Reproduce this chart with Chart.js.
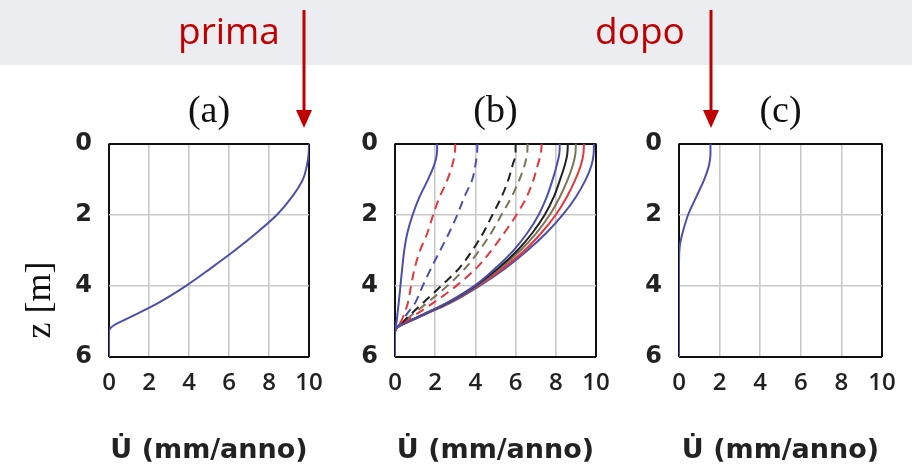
<!DOCTYPE html>
<html>
<head>
<meta charset="utf-8">
<script src="https://cdn.jsdelivr.net/npm/chart.js@4.4.0/dist/chart.umd.min.js"></script>
<style>
html, body { margin: 0; padding: 0; background: #fff; }
body { width: 912px; height: 466px; position: relative; overflow: hidden; }
#band { position: absolute; left: 0; top: 0; width: 912px; height: 65px; background: #ecedf1; }
.panel { position: absolute; top: 0; height: 466px; }
#over { position: absolute; left: 0; top: 0; pointer-events: none; }
</style>
</head>
<body>
<div id="band"></div>
<div class="panel" style="left:0px;width:418px"><canvas id="ca"></canvas></div>
<div class="panel" style="left:286px;width:419px"><canvas id="cb"></canvas></div>
<div class="panel" style="left:570px;width:421px"><canvas id="cc"></canvas></div>
<svg id="over" width="912" height="466">
  <text x="178" y="44" font-family="Open Sans" font-size="37" fill="#c00000">prima</text>
  <line x1="304" y1="10" x2="304" y2="112" stroke="#c00000" stroke-width="3"/>
  <polygon points="296,110 312,110 304,128" fill="#c00000"/>
  <text x="595" y="44" font-family="Open Sans" font-size="37" fill="#c00000">dopo</text>
  <line x1="711" y1="10" x2="711" y2="112" stroke="#c00000" stroke-width="3"/>
  <polygon points="703,110 719,110 711,128" fill="#c00000"/>
  <text transform="translate(38,300) rotate(-90)" text-anchor="middle" dominant-baseline="central"
        font-family="Liberation Serif" font-size="36" fill="#111">z [m]</text>
</svg>
<script>
// depth z [m] (shared by every curve) and velocity U [mm/anno]
const zA = [0, 0.3, 0.6, 1.0, 1.5, 2.0, 2.5, 3.0, 3.5, 4.0, 4.5, 4.8, 5.0, 5.1, 5.2, 5.3, 6.0];
const uA = [10, 9.98, 9.9, 9.7, 9.15, 8.4, 7.4, 6.3, 5.1, 3.85, 2.4, 1.35, 0.62, 0.27, 0.05, 0, 0];

const zB = [0, 0.3, 0.6, 1.0, 1.5, 2.0, 2.5, 3.0, 3.5, 4.0, 4.5, 4.8, 5.0, 5.1, 5.2, 5.3, 6.0];
const bBlue1  = [2.1, 2.08, 1.95, 1.65, 1.22, 0.88, 0.62, 0.46, 0.36, 0.27, 0.18, 0.12, 0.08, 0.05, 0.02, 0, 0];
const bRedD1  = [3.0, 2.97, 2.85, 2.62, 2.22, 1.9, 1.62, 1.25, 0.98, 0.8, 0.63, 0.45, 0.3, 0.18, 0.05, 0, 0];
const bBlueD  = [4.1, 4.08, 4.0, 3.85, 3.45, 3.1, 2.7, 2.25, 1.8, 1.38, 0.98, 0.58, 0.35, 0.2, 0.05, 0, 0];
const bBlackD = [6.0, 6.0, 5.85, 5.65, 5.3, 4.85, 4.4, 3.85, 3.2, 2.3, 1.35, 0.78, 0.42, 0.2, 0.05, 0, 0];
const bOliveD = [6.6, 6.57, 6.45, 6.2, 5.8, 5.3, 4.8, 4.2, 3.5, 2.6, 1.55, 0.88, 0.46, 0.22, 0.05, 0, 0];
const bRedD2  = [7.3, 7.25, 7.1, 6.9, 6.55, 6.05, 5.45, 4.8, 4.05, 3.05, 1.85, 1.05, 0.52, 0.25, 0.05, 0, 0];
const bBlue2  = [8.2, 8.17, 8.05, 7.85, 7.55, 7.15, 6.6, 5.9, 5.0, 3.95, 2.5, 1.4, 0.66, 0.3, 0.05, 0, 0];
const bBlack  = [8.6, 8.57, 8.45, 8.22, 7.9, 7.45, 6.85, 6.1, 5.15, 4.0, 2.55, 1.42, 0.67, 0.3, 0.05, 0, 0];
const bOlive  = [9.0, 8.97, 8.85, 8.6, 8.2, 7.7, 7.05, 6.25, 5.25, 4.05, 2.6, 1.45, 0.69, 0.31, 0.05, 0, 0];
const bRed    = [9.4, 9.37, 9.25, 8.98, 8.55, 8.0, 7.3, 6.45, 5.38, 4.12, 2.63, 1.47, 0.7, 0.32, 0.05, 0, 0];
const bBlue3  = [9.9, 9.88, 9.78, 9.5, 9.0, 8.35, 7.55, 6.6, 5.5, 4.2, 2.68, 1.5, 0.72, 0.33, 0.05, 0, 0];

const zC = [0, 0.3, 0.6, 1.0, 1.5, 2.0, 2.5, 2.8, 3.0, 3.5, 6.0];
const uC = [1.55, 1.55, 1.48, 1.25, 0.85, 0.45, 0.18, 0.06, 0.02, 0, 0];

const xTicks = [0, 2, 4, 6, 8, 10];
const yTicks = [0, 2, 4, 6];

const BLUE = '#4b4fae', RED = '#e5353d', BLACK = '#222222', OLIVE = '#7d7357';

function pts(z, u) {
  return z.map((v, i) => ({ x: u[i], y: v }));
}
function ds(z, u, color, dashed) {
  return {
    data: pts(z, u),
    borderColor: color,
    borderWidth: 2,
    borderDash: dashed ? [9, 6] : [],
    pointRadius: 0,
    fill: false,
    cubicInterpolationMode: 'monotone'
  };
}

// left axis box is 109px wide; an empty right axis of the same width keeps the title centred over the plot
function panel(id, title, datasets) {
  const edge = (v) => v === 0 || v === 10;
  return new Chart(document.getElementById(id), {
    type: 'line',
    data: { datasets: datasets },
    options: {
      indexAxis: 'y',
      animation: false,
      responsive: true,
      maintainAspectRatio: false,
      layout: { padding: 0 },
      plugins: {
        legend: { display: false },
        tooltip: { enabled: false },
        title: {
          display: true,
          text: title,
          color: '#111',
          font: { family: 'Liberation Serif', size: 38, weight: 'normal', lineHeight: 1.2 },
          padding: { top: 89, bottom: 9 }
        }
      },
      scales: {
        x: {
          type: 'linear',
          position: 'bottom',
          min: 0,
          max: 10,
          afterBuildTicks: (s) => { s.ticks = xTicks.map(v => ({ value: v })); },
          ticks: {
            autoSkip: false,
            maxRotation: 0,
            padding: 12,
            color: '#222',
            font: { family: 'Open Sans', size: 24, weight: '600' }
          },
          grid: {
            drawTicks: false,
            color: (c) => (c.tick && edge(c.tick.value)) ? '#111' : '#c9c9c9',
            lineWidth: (c) => (c.tick && edge(c.tick.value)) ? 2 : 1.6
          },
          border: { display: false },
          title: {
            display: true,
            text: 'U\u0307 (mm/anno)',
            color: '#222',
            font: { family: 'DejaVu Sans', size: 27, weight: 'bold', lineHeight: 1.1 },
            padding: { top: 0, bottom: 0 }
          },
          afterFit: (s) => { s.height = 109; }
        },
        y: {
          type: 'linear',
          position: 'left',
          min: 0,
          max: 6,
          reverse: true,
          afterBuildTicks: (s) => { s.ticks = yTicks.map(v => ({ value: v })); },
          ticks: {
            padding: 17,
            color: '#222',
            font: { family: 'DejaVu Sans', size: 24, weight: 'bold' }
          },
          grid: {
            drawTicks: false,
            color: (c) => (c.tick && (c.tick.value === 0 || c.tick.value === 6)) ? '#111' : '#c9c9c9',
            lineWidth: (c) => (c.tick && (c.tick.value === 0 || c.tick.value === 6)) ? 2 : 1.6
          },
          border: { display: false },
          afterFit: (s) => { s.width = 109; }
        },
        yR: {
          type: 'linear',
          position: 'right',
          min: 0,
          max: 6,
          grid: { display: false, drawTicks: false },
          ticks: { display: false },
          border: { display: false },
          afterFit: (s) => { s.width = 109; }
        }
      }
    }
  });
}

panel('ca', '(a)', [ds(zA, uA, BLUE, false)]);

panel('cb', '(b)', [
  ds(zB, bBlue1, BLUE, false),
  ds(zB, bRedD1, RED, true),
  ds(zB, bBlueD, BLUE, true),
  ds(zB, bBlackD, BLACK, true),
  ds(zB, bOliveD, OLIVE, true),
  ds(zB, bRedD2, RED, true),
  ds(zB, bBlue2, BLUE, false),
  ds(zB, bBlack, BLACK, false),
  ds(zB, bOlive, OLIVE, false),
  ds(zB, bRed, RED, false),
  ds(zB, bBlue3, BLUE, false)
]);

panel('cc', '(c)', [ds(zC, uC, BLUE, false)]);
</script>
</body>
</html>
